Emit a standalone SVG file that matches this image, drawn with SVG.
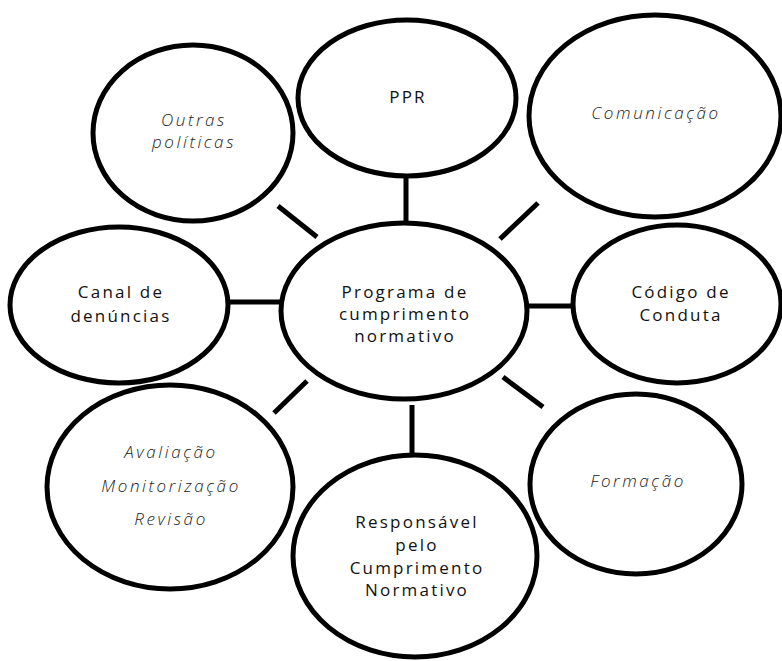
<svg xmlns="http://www.w3.org/2000/svg" width="782" height="661" viewBox="0 0 782 661">
<style>
.n{fill:#fff;stroke:#000;stroke-width:5}
.c{stroke:#000;stroke-width:5;fill:none}
text{font-family:"Open Sans","DejaVu Sans",sans-serif;font-size:17px;fill:#111;text-anchor:middle;letter-spacing:2.2px}
.i{font-style:italic;fill:#222;font-weight:300;letter-spacing:2.6px}
</style>
<rect width="782" height="661" fill="#fff"/>
<g id="connectors">
<line class="c" x1="278" y1="206" x2="317" y2="237"/>
<line class="c" x1="228" y1="302" x2="281" y2="302"/>
<line class="c" x1="406" y1="176" x2="406" y2="224"/>
<line class="c" x1="538" y1="203" x2="500" y2="239"/>
<line class="c" x1="526" y1="306" x2="574" y2="306"/>
<line class="c" x1="307" y1="381" x2="274" y2="413"/>
<line class="c" x1="412" y1="405" x2="412" y2="453"/>
<line class="c" x1="503" y1="377" x2="543" y2="407"/>
</g>
<g id="outras">
<ellipse class="n" cx="193" cy="133" rx="100" ry="88"/>
<text class="i" x="194" y="126">Outras</text>
<text class="i" x="194" y="148">políticas</text>
</g>
<g id="ppr">
<ellipse class="n" cx="407" cy="98" rx="109" ry="78"/>
<text x="408" y="103">PPR</text>
</g>
<g id="comunicacao">
<ellipse class="n" cx="655" cy="116" rx="126" ry="101"/>
<text class="i" x="656" y="119">Comunicação</text>
</g>
<g id="canal">
<ellipse class="n" cx="119" cy="305" rx="109" ry="78"/>
<text x="121" y="298">Canal de</text>
<text x="121" y="322">denúncias</text>
</g>
<g id="programa">
<ellipse class="n" cx="404" cy="311" rx="123" ry="88"/>
<text x="405" y="298">Programa de</text>
<text x="405" y="320">cumprimento</text>
<text x="405" y="342">normativo</text>
</g>
<g id="codigo">
<ellipse class="n" cx="677" cy="304" rx="104" ry="79"/>
<text x="681" y="298">Código de</text>
<text x="681" y="321">Conduta</text>
</g>
<g id="avaliacao">
<ellipse class="n" cx="170" cy="487" rx="123" ry="102"/>
<text class="i" x="171" y="458">Avaliação</text>
<text class="i" x="171" y="492">Monitorização</text>
<text class="i" x="171" y="525">Revisão</text>
</g>
<g id="responsavel">
<ellipse class="n" cx="415" cy="556" rx="122" ry="101"/>
<text x="417" y="528">Responsável</text>
<text x="417" y="551">pelo</text>
<text x="417" y="574">Cumprimento</text>
<text x="417" y="596">Normativo</text>
</g>
<g id="formacao">
<ellipse class="n" cx="636" cy="484" rx="106" ry="90"/>
<text class="i" x="638" y="487">Formação</text>
</g>
</svg>
